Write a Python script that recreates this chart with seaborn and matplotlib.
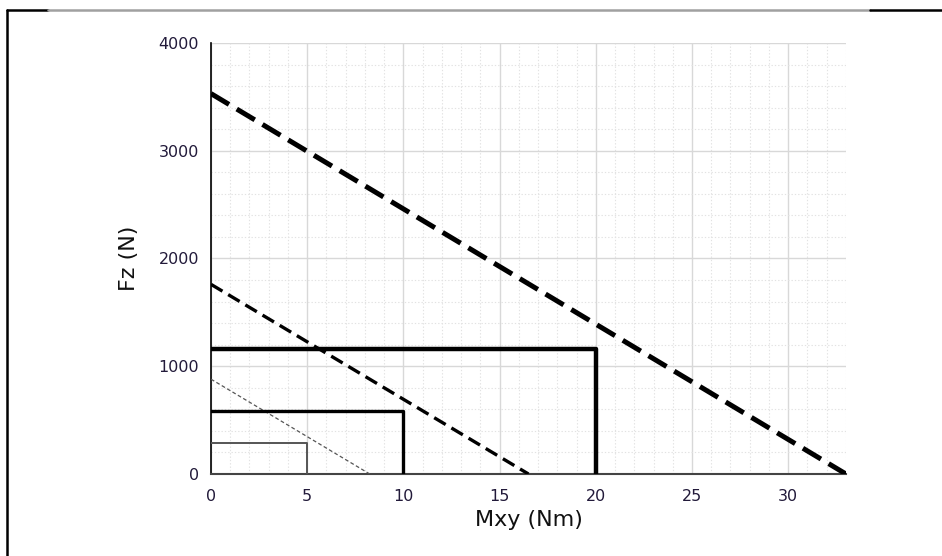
import matplotlib
matplotlib.use("Agg")
import matplotlib.pyplot as plt
import seaborn as sns
import pandas as pd
from matplotlib.lines import Line2D
from matplotlib.ticker import MultipleLocator

# limit lines (Mxy at Fz=0, Fz at Mxy=0)
limit_mxy = [33.0, 16.5, 8.25]
limit_fz = [3530, 1760, 880]
# working rectangles
rect_mxy = [20, 10, 5]
rect_fz = [1160, 580, 290]

sns.set_style("white")
plt.rcParams['font.family'] = ['DejaVu Sans']

fig = plt.figure(figsize=(9.42, 5.56), dpi=100)
ax = fig.add_axes([0.224, 0.1475, 0.674, 0.7752])

# limit lines
limit_styles = [
    dict(color="black", lw=3.6, dashes=(4.2, 1.8)),
    dict(color="black", lw=2.4, dashes=(4.0, 2.0)),
    dict(color="#555555", lw=0.9, dashes=(3.0, 2.0)),
]
for mx, fz, st in zip(limit_mxy, limit_fz, limit_styles):
    d = pd.DataFrame({"Mxy": [0, mx], "Fz": [fz, 0]})
    sns.lineplot(data=d, x="Mxy", y="Fz", ax=ax, color=st["color"], lw=st["lw"],
                 dashes=False, zorder=3).lines[-1].set_dashes(st["dashes"])

# rectangles
rect_styles = [
    dict(color="black", lw=3.2),
    dict(color="black", lw=2.4),
    dict(color="#555555", lw=1.4),
]
for mx, fz, st in zip(rect_mxy, rect_fz, rect_styles):
    d = pd.DataFrame({"Mxy": [0, mx, mx], "Fz": [fz, fz, 0]})
    sns.lineplot(data=d, x="Mxy", y="Fz", ax=ax, sort=False, estimator=None,
                 color=st["color"], lw=st["lw"], zorder=3)

ax.set_xlim(0, 33)
ax.set_ylim(0, 4000)
ax.xaxis.set_major_locator(MultipleLocator(5))
ax.xaxis.set_minor_locator(MultipleLocator(1))
ax.yaxis.set_major_locator(MultipleLocator(1000))
ax.yaxis.set_minor_locator(MultipleLocator(200))
ax.grid(which="major", color="#d8d8d8", lw=1.0, ls="-", zorder=0)
ax.grid(which="minor", color="#e2e2e2", lw=0.8, ls=(0, (1.2, 1.8)), zorder=0)
ax.set_axisbelow(True)

for s in ["top", "right"]:
    ax.spines[s].set_visible(False)
ax.spines["left"].set_color("black")
ax.spines["left"].set_linewidth(1.2)
ax.spines["bottom"].set_color("#444444")
ax.spines["bottom"].set_linewidth(1.5)
ax.tick_params(axis="both", which="major", direction="out", length=5, width=1,
               colors="black", labelsize=11.5, labelcolor="#221a3a")
ax.tick_params(axis="both", which="minor", length=0)
ax.tick_params(axis="x", pad=6)

ax.set_xlabel("Mxy (Nm)", fontsize=16, labelpad=4, color="#111111")
ax.set_ylabel("Fz (N)", fontsize=16, labelpad=14, color="#111111")

# screenshot frame
fig.add_artist(Line2D([0.0075, 0.0075], [0.0, 0.982], color="black", lw=1.8, transform=fig.transFigure))
fig.add_artist(Line2D([0.0075, 0.051], [0.982, 0.982], color="black", lw=1.8, transform=fig.transFigure))
fig.add_artist(Line2D([0.051, 0.924], [0.982, 0.982], color="#a0a0a0", lw=1.8, transform=fig.transFigure))
fig.add_artist(Line2D([0.924, 1.0], [0.982, 0.982], color="black", lw=1.8, transform=fig.transFigure))

fig.savefig("out.png", dpi=100)
